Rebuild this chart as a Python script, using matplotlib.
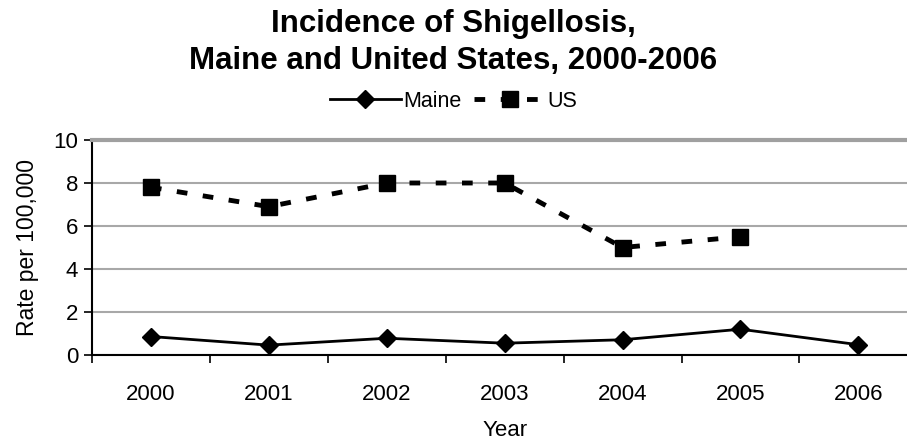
import numpy as np
import matplotlib
matplotlib.use("Agg")
import matplotlib.pyplot as plt
from matplotlib.lines import Line2D

plt.rcParams['font.family'] = ['Liberation Sans', 'DejaVu Sans']

# datos
years = ["2000", "2001", "2002", "2003", "2004", "2005", "2006"]
maine = [0.86, 0.46, 0.78, 0.55, 0.71, 1.2, 0.48]
us = [7.8, 6.9, 8.0, 8.0, 5.0, 5.5]

fig = plt.figure(figsize=(9.07, 4.43), dpi=100)
ax = fig.add_axes([0.1014, 0.1986, 0.91, 0.4854])

x = np.arange(len(years))
ax.plot(x, maine, color="black", lw=2, marker="D", markersize=9, zorder=3)
ax.plot(x[:len(us)], us, color="black", lw=3.5, dashes=(2.2, 3.2),
        marker="s", markersize=11, zorder=3)

ax.set_xlim(-0.5, len(years) - 0.5)
ax.set_ylim(0, 10)
ax.set_yticks(range(0, 11, 2))
ax.grid(axis="y", color="#a8a8a8", lw=1.5)
ax.set_axisbelow(True)

# ticks entre categorias, etiquetas centradas
ax.set_xticks(np.arange(-0.5, len(years), 1.0))
ax.set_xticklabels([])
ax.set_xticks(x, minor=True)
ax.set_xticklabels(years, minor=True)
ax.tick_params(axis="x", which="minor", length=0, pad=21, labelsize=16)
ax.tick_params(axis="x", which="major", length=6, width=1.2, direction="out")
ax.tick_params(axis="y", length=6, width=1.2, labelsize=16, pad=4)

for s in ["left", "bottom"]:
    ax.spines[s].set_color("black")
    ax.spines[s].set_linewidth(1.5)
ax.spines["right"].set_visible(False)
ax.spines["top"].set_color("#a0a0a0")
ax.spines["top"].set_linewidth(3)

ax.set_ylabel("Rate per 100,000", fontsize=16.5, labelpad=10)
ax.set_xlabel("Year", fontsize=16)
ax.xaxis.set_label_coords(0.5, -0.30)

fig.text(0.5, 0.905, "Incidence of Shigellosis,\nMaine and United States, 2000-2006",
         ha="center", va="center", fontsize=22.5, fontweight="bold", linespacing=1.3)

h1 = Line2D([], [], color="black", lw=2, marker="D", markersize=9)
h2 = Line2D([], [], color="black", lw=3.5, dashes=(2.2, 3.2), marker="s", markersize=11)
fig.legend([h1, h2], ["Maine", "US"], loc="center", bbox_to_anchor=(0.5, 0.772),
           ncol=2, frameon=False, fontsize=15.5, handlelength=3.3,
           handletextpad=0.1, columnspacing=0.6)

plt.savefig("out.png", dpi=100)
